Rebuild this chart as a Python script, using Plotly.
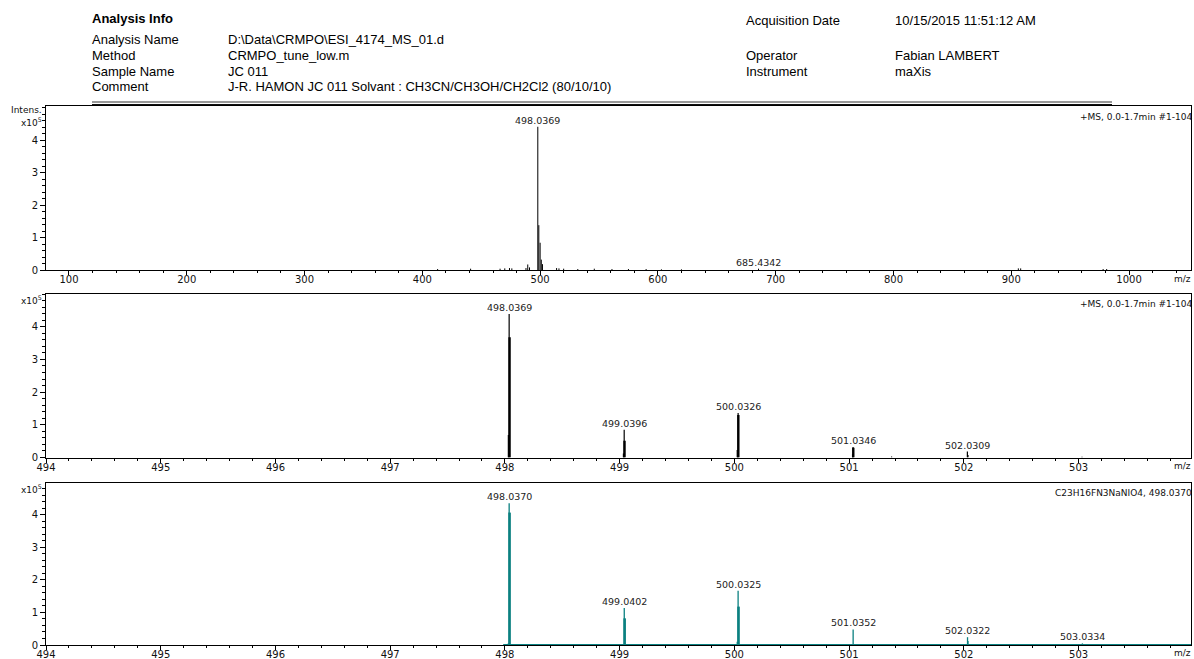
import plotly.graph_objects as go

W, H = 1194, 659

# ---------------- data ----------------
# Panel 1: full scan (+MS), intensities in units of 1e5
full_mz = [413, 441, 466, 470, 474, 476, 488, 489.5, 491, 498.0369, 498.9, 500.0,
           501.0, 502.0, 514, 516, 520, 532, 546, 561, 575, 590, 603, 620,
           685.4342, 906, 908, 978, 981]
full_int = [0.03, 0.04, 0.04, 0.05, 0.06, 0.05, 0.06, 0.17, 0.08, 4.41, 1.38, 0.84,
            0.32, 0.18, 0.06, 0.05, 0.04, 0.03, 0.04, 0.03, 0.03, 0.03, 0.02, 0.02,
            0.04, 0.05, 0.05, 0.03, 0.03]
full_labels_mz = [498.0369, 685.4342]
full_labels_int = [4.41, 0.04]
full_labels = ["498.0369", "685.4342"]

# Panel 2: zoomed measured spectrum
meas_mz = [498.030, 498.0369, 499.033, 499.0396, 500.025, 500.0326, 501.030, 501.0346,
           501.37, 502.0309, 502.036, 503.03]
meas_int = [0.69, 4.39, 0.12, 0.85, 0.23, 1.36, 0.10, 0.32, 0.03, 0.18, 0.08, 0.02]
meas_sh_mz = [498.0405, 499.0425, 500.0345, 501.0365]
meas_sh_int = [3.68, 0.51, 1.30, 0.30]
meas_labels = ["498.0369", "499.0396", "500.0326", "501.0346", "502.0309"]
meas_label_mz = [498.0369, 499.0396, 500.0326, 501.0346, 502.0309]
meas_label_int = [4.39, 0.85, 1.36, 0.32, 0.18]

# Panel 3: simulated isotope pattern
sim_mz = [498.030, 498.0370, 499.0402, 500.025, 500.0325, 501.0352, 502.0322, 502.036, 503.0334]
sim_int = [0.05, 4.36, 1.14, 0.10, 1.67, 0.48, 0.24, 0.12, 0.05]
sim_sh_mz = [498.0405, 499.0435, 500.0360]
sim_sh_int = [4.07, 0.82, 1.18]
sim_range = [497.985, 504.0]
sim_labels = ["498.0370", "499.0402", "500.0325", "501.0352", "502.0322", "503.0334"]
sim_label_mz = [498.0370, 499.0402, 500.0325, 501.0352, 502.0322, 503.0334]
sim_label_int = [4.36, 1.14, 1.67, 0.48, 0.24, 0.05]

y_ticks = [0, 1, 2, 3, 4]

header_left = [("Analysis Name", "D:\\Data\\CRMPO\\ESI_4174_MS_01.d"),
               ("Method", "CRMPO_tune_low.m"),
               ("Sample Name", "JC 011"),
               ("Comment", "J-R. HAMON JC 011 Solvant : CH3CN/CH3OH/CH2Cl2 (80/10/10)")]
header_right = [("Acquisition Date", "10/15/2015 11:51:12 AM"),
                ("Operator", "Fabian LAMBERT"),
                ("Instrument", "maXis")]
scan_title = "+MS, 0.0-1.7min #1-104"
sim_title = "C23H16FN3NaNIO4, 498.0370"


def sticks(mz, inten):
    xs, ys = [], []
    for m, v in zip(mz, inten):
        xs += [m, m, None]
        ys += [0, v * 1e5, None]
    return xs, ys


fig = go.Figure()
BLACK = "#000000"
TEAL = "#0b8080"

x, y = sticks(full_mz, full_int)
fig.add_trace(go.Scatter(x=x, y=y, mode="lines", line=dict(color=BLACK, width=1),
                         xaxis="x", yaxis="y", hoverinfo="skip"))

x, y = sticks(meas_mz, meas_int)
fig.add_trace(go.Scatter(x=x, y=y, mode="lines", line=dict(color=BLACK, width=1.2),
                         xaxis="x2", yaxis="y2", hoverinfo="skip"))
x, y = sticks(meas_sh_mz, meas_sh_int)
fig.add_trace(go.Scatter(x=x, y=y, mode="lines", line=dict(color=BLACK, width=2.4),
                         xaxis="x2", yaxis="y2", hoverinfo="skip"))

fig.add_trace(go.Scatter(x=sim_range, y=[0, 0], mode="lines", line=dict(color=TEAL, width=2.2),
                         xaxis="x3", yaxis="y3", hoverinfo="skip"))
x, y = sticks(sim_mz, sim_int)
fig.add_trace(go.Scatter(x=x, y=y, mode="lines", line=dict(color=TEAL, width=1.3),
                         xaxis="x3", yaxis="y3", hoverinfo="skip"))
x, y = sticks(sim_sh_mz, sim_sh_int)
fig.add_trace(go.Scatter(x=x, y=y, mode="lines", line=dict(color=TEAL, width=2.6),
                         xaxis="x3", yaxis="y3", hoverinfo="skip"))

# ---------------- layout ----------------
def px_x(p):
    return p / W


def px_y(p):
    return 1 - p / H


xdom = [px_x(46), px_x(1191)]
doms = [[px_y(270), px_y(106)], [px_y(457.5), px_y(294)], [px_y(645), px_y(483)]]
tickfont = dict(family="DejaVu Sans", size=10, color="#111")

common_x = dict(showline=True, linecolor="#000", linewidth=1, mirror=True, ticks="outside",
                ticklen=4, tickcolor="#000", tickfont=tickfont, showgrid=False, zeroline=False,
                domain=xdom, fixedrange=True, automargin=False, ticklabelstandoff=-4)
common_y = dict(showline=True, linecolor="#000", linewidth=1, mirror=True, ticks="outside",
                ticklen=5, tickcolor="#000", tickfont=tickfont, showgrid=False, zeroline=False,
                tickvals=[v * 1e5 for v in y_ticks], ticktext=[str(v) for v in y_ticks],
                minor=dict(dtick=2e4, ticklen=3, tickcolor="#000", ticks="outside"),
                fixedrange=True, automargin=False, ticklabelstandoff=0)

layout = dict(
    width=W, height=H, margin=dict(l=0, r=0, t=0, b=0, pad=0), autosize=False,
    paper_bgcolor="white", plot_bgcolor="white", showlegend=False,
    xaxis=dict(common_x, anchor="y", range=[80.5, 1052.6], dtick=100, tick0=0,
               minor=dict(dtick=20, ticklen=2, tickcolor="#000", ticks="outside")),
    yaxis=dict(common_y, anchor="x", domain=doms[0], range=[0, 5.05e5]),
    xaxis2=dict(common_x, anchor="y2", range=[494, 503.98], dtick=1, tick0=494,
                minor=dict(dtick=0.2, ticklen=2, tickcolor="#000", ticks="outside")),
    yaxis2=dict(common_y, anchor="x2", domain=doms[1], range=[0, 5.0e5]),
    xaxis3=dict(common_x, anchor="y3", range=[494, 503.98], dtick=1, tick0=494, layer="below traces",
                minor=dict(dtick=0.2, ticklen=2, tickcolor="#000", ticks="outside")),
    yaxis3=dict(common_y, anchor="x3", domain=doms[2], range=[0, 4.98e5]),
)
fig.update_layout(**layout)

ann = []
hfont = dict(family="Liberation Sans", size=13, color="#000")
ann.append(dict(text="<b>Analysis Info</b>", x=px_x(90), y=px_y(19), xref="paper", yref="paper",
                xanchor="left", yanchor="middle", showarrow=False, font=hfont))
for i, (k, v) in enumerate(header_left):
    yy = px_y(39 + 16 * i)
    ann.append(dict(text=k, x=px_x(90), y=yy, xref="paper", yref="paper", xanchor="left",
                    yanchor="middle", showarrow=False, font=hfont))
    ann.append(dict(text=v, x=px_x(226), y=yy, xref="paper", yref="paper", xanchor="left",
                    yanchor="middle", showarrow=False, font=hfont))
for (k, v), py in zip(header_right, [21, 55, 71]):
    ann.append(dict(text=k, x=px_x(744), y=px_y(py), xref="paper", yref="paper", xanchor="left",
                    yanchor="middle", showarrow=False, font=hfont))
    ann.append(dict(text=v, x=px_x(893), y=px_y(py), xref="paper", yref="paper", xanchor="left",
                    yanchor="middle", showarrow=False, font=hfont))

small = dict(family="DejaVu Sans", size=9, color="#111")
ann.append(dict(text="Intens.", x=px_x(44), y=px_y(110), xref="paper", yref="paper",
                xanchor="right", yanchor="middle", showarrow=False, font=small))
for py in [122, 300, 489]:
    ann.append(dict(text="x10<sup>5</sup>", x=px_x(44), y=px_y(py), xref="paper", yref="paper",
                    xanchor="right", yanchor="middle", showarrow=False, font=small))

for title, py in [(scan_title, 117), (scan_title, 304), (sim_title, 493)]:
    ann.append(dict(text=title, x=px_x(1194), y=px_y(py), xref="paper", yref="paper",
                    xanchor="right", yanchor="middle", showarrow=False, font=small))

for py in [279, 466, 653]:
    ann.append(dict(text="m/z", x=px_x(1193), y=px_y(py), xref="paper", yref="paper",
                    xanchor="right", yanchor="middle", showarrow=False, font=small))

lab = dict(family="DejaVu Sans", size=9.5, color="#222")
for xr, yr, mzs, ints, txts in [("x", "y", full_labels_mz, full_labels_int, full_labels),
                                ("x2", "y2", meas_label_mz, meas_label_int, meas_labels),
                                ("x3", "y3", sim_label_mz, sim_label_int, sim_labels)]:
    for m, v, t in zip(mzs, ints, txts):
        ann.append(dict(text=t, x=m, y=v * 1e5, xref=xr, yref=yr, xanchor="center",
                        yanchor="bottom", showarrow=False, font=lab, yshift=-1))

fig.update_layout(annotations=ann)

shapes = []
for py, col in [(102, "#333"), (104.5, "#111")]:
    shapes.append(dict(type="line", xref="paper", yref="paper", x0=px_x(92), x1=px_x(1112),
                       y0=px_y(py), y1=px_y(py), line=dict(color=col, width=1)))
fig.update_layout(shapes=shapes)

fig.write_html("out.html", config={"displayModeBar": False},
               post_script="document.body.style.margin='0';document.body.style.overflow='hidden';")
